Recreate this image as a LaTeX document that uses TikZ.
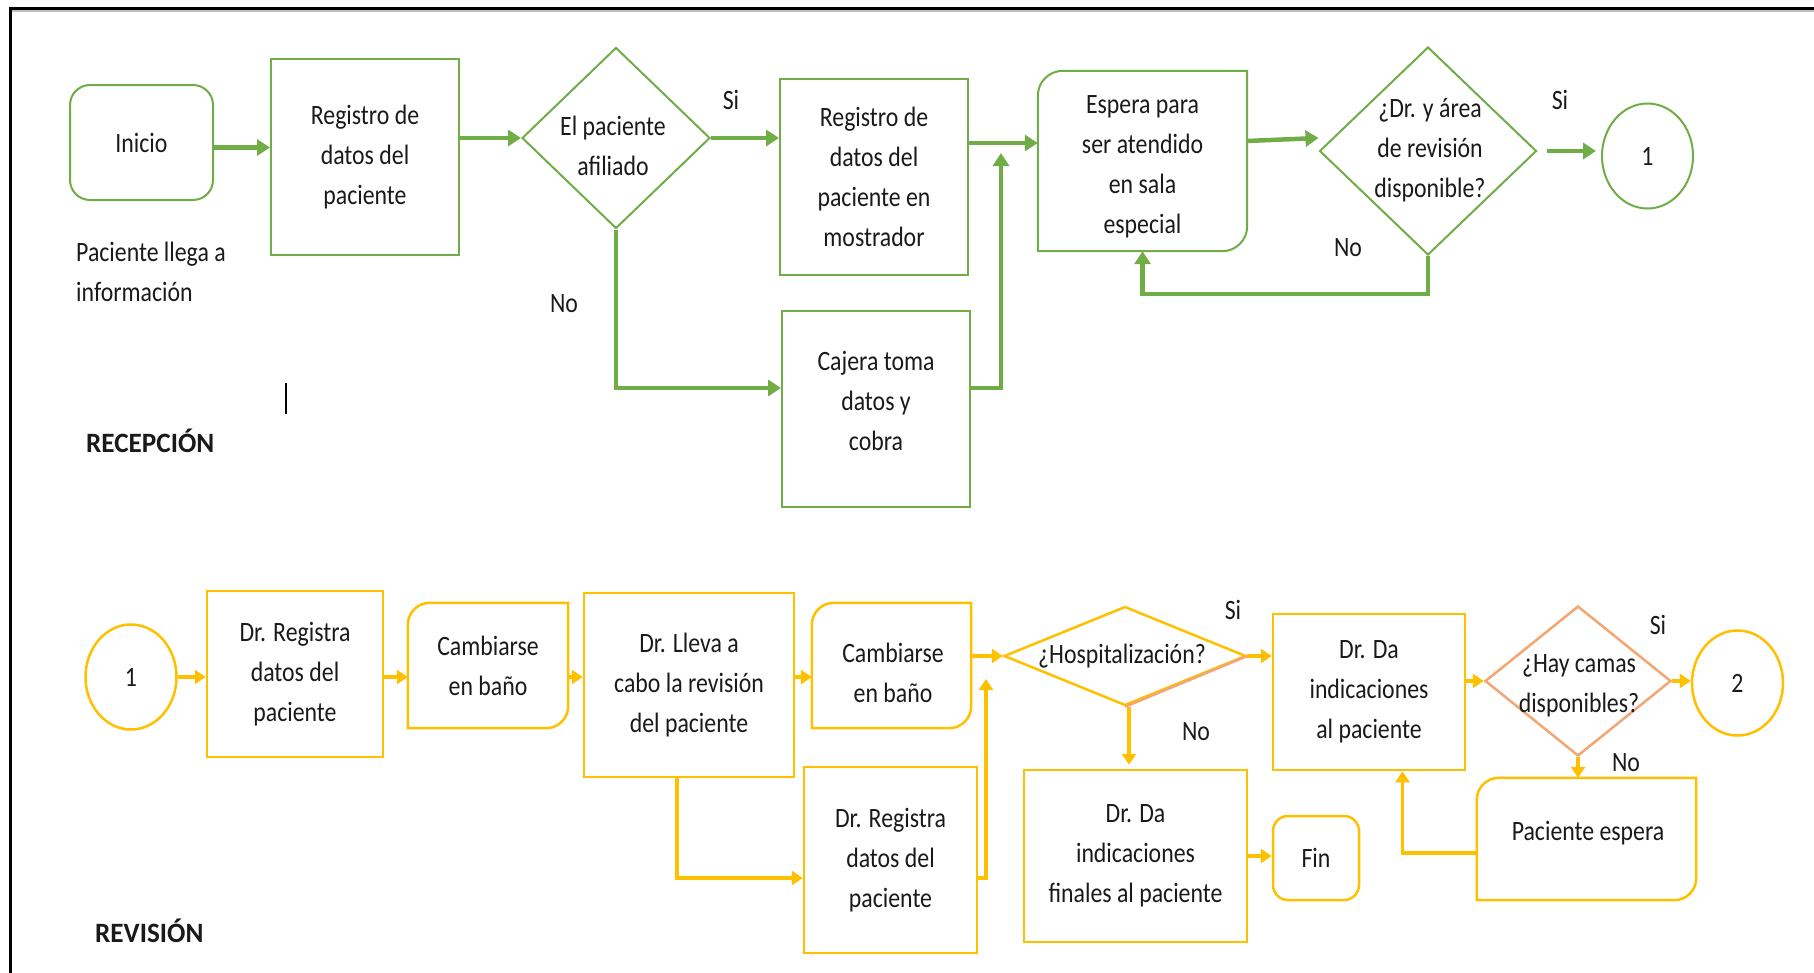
\documentclass[tikz,border=0pt]{standalone}
\usepackage{fontspec}
\setmainfont{Carlito}[FakeStretch=0.85, BoldFeatures={FakeStretch=0.97}]
\usetikzlibrary{shapes.geometric,arrows.meta,calc}
\definecolor{gr}{HTML}{70AD47}
\definecolor{yl}{HTML}{FFC000}
\definecolor{orn}{HTML}{F4A672}
\definecolor{txt}{HTML}{1A1A1A}
\newcommand{\rdiag}[4]{\draw[draw=#2, line width=#4] ([yshift=-#3]#1.north west) arc[start angle=180, end angle=90, radius=#3] -- (#1.north east) -- ([yshift=#3]#1.south east) arc[start angle=0, end angle=-90, radius=#3] -- (#1.south west) -- cycle;}
\begin{document}
\begin{tikzpicture}[x=1pt,y=-1pt,
  every node/.style={font=\fontsize{28}{40}\selectfont, text=txt, inner sep=0pt, align=center},
  gbox/.style={draw=gr, line width=2pt, rectangle},
  ybox/.style={draw=yl, line width=2.5pt, rectangle},
  garr/.style={draw=gr, line width=4.5pt, -{Triangle[length=13pt,width=16pt]}},
  yarr/.style={draw=yl, line width=3.5pt, -{Triangle[length=11pt,width=14pt]}},
  ttl/.style={font=\fontsize{28}{40}\selectfont\bfseries, anchor=west}]
\useasboundingbox (0,0) rectangle (1814,972);
\fill[white] (0,0) rectangle (1814,972);
\clip (0,0) rectangle (1814,972);
% frame
\draw[black!25, line width=1.5pt] (12,11) -- (1830,11);
\draw[line width=3pt] (10,1000) -- (10,8) -- (1830,8);

% ---------- RECEPCION (green) ----------
\node[gbox, rounded corners=20pt, minimum width=143pt, minimum height=115pt] (inicio) at (141.5,142.5) {Inicio};
\node[gbox, minimum width=188pt, minimum height=196pt] (reg1) at (365,157) {Registro de\\datos del\\paciente};
\node[diamond, draw=gr, line width=2pt, minimum width=188pt, minimum height=181pt] (dia1) at (616,138) {};
\node (tdia1) at (613,146) {El paciente\\afiliado};
\node[gbox, minimum width=188pt, minimum height=196pt] (reg2) at (874,177) {Registro de\\datos del\\paciente en\\mostrador};
\node[gbox, minimum width=188pt, minimum height=196pt] (caj) at (876,409) {};
\node (tcaj) at (876,401) {Cajera toma\\datos y\\cobra};
\node[minimum width=209pt, minimum height=180pt] (esp) at (1142.5,161) {};
\rdiag{esp}{gr}{25pt}{2pt}
\node (tesp) at (1142.5,167) {Espera para\\ser atendido\\en sala\\especial};
\node[diamond, draw=gr, line width=2pt, minimum width=217pt, minimum height=208pt] (dia2) at (1428,151) {};
\node (tdia2) at (1430,150) {¿Dr. y área\\de revisión\\disponible?};
\node[ellipse, draw=gr, line width=2pt, minimum width=91pt, minimum height=105pt] (c1) at (1647.5,156) {1};

\node (si1) at (731,100) {Si};
\node (si2) at (1560,100) {Si};
\node (no1) at (564,304) {No};
\node (no2) at (1348,248) {No};
\node[anchor=west, align=left] (llega) at (76,272) {Paciente llega a\\información};
\node[ttl] (rec) at (86,441) {RECEPCIÓN};
\draw[line width=1.5pt] (286,383) -- (286,414);

\draw[garr] ([yshift=-5pt]inicio.east) -- ([yshift=-5pt]inicio.east -| reg1.west);
\draw[garr] (reg1.east |- dia1.west) -- (dia1.west);
\draw[garr] (dia1.east) -- (dia1.east -| reg2.west);
\draw[garr] (dia1.south) |- ([yshift=21pt]caj.west);
\draw[garr] ([yshift=34pt]reg2.east) -- ([yshift=34pt]reg2.east -| esp.west);
\coordinate (j1) at (1001,153);
\draw[garr] ([yshift=21pt]caj.east) -| (j1);
\draw[garr] ([yshift=20pt]esp.east) -- ([yshift=13pt]dia2.west);
\draw[garr] ([xshift=9pt]dia2.east) -- ($(c1.west |- dia2.east)+(-5,0)$);
\draw[garr] (dia2.south) -- ++(0,38) -| (esp.south);

% ---------- REVISION (yellow) ----------
\node[ellipse, draw=yl, line width=2.5pt, minimum width=91pt, minimum height=105pt] (c1b) at (131,677) {1};
\node[ybox, minimum width=176pt, minimum height=166pt] (drr1) at (295,674) {Dr. Registra\\datos del\\paciente};
\node[minimum width=160pt, minimum height=125pt] (camb1) at (488,665.5) {Cambiarse\\en baño};
\rdiag{camb1}{yl}{22pt}{2.5pt}
\node[ybox, minimum width=210pt, minimum height=184pt] (drl) at (689,685) {Dr. Lleva a\\cabo la revisión\\del paciente};
\node[minimum width=159pt, minimum height=125pt] (camb2) at (891.5,665.5) {};
\rdiag{camb2}{yl}{22pt}{2.5pt}
\node (tcamb2) at (893,673) {Cambiarse\\en baño};
\node[ybox, minimum width=173pt, minimum height=186pt] (drr2) at (890.5,860) {Dr. Registra\\datos del\\paciente};
\node[diamond, draw=yl, line width=2.5pt, minimum width=242pt, minimum height=99pt] (hosp) at (1125,656) {};
\draw[orn, line width=2.5pt] (hosp.south) -- (hosp.east);
\node (thosp) at (1122,656) {¿Hospitalización?};
\node[ybox, minimum width=192pt, minimum height=156pt] (drda) at (1369,692) {Dr. Da\\indicaciones\\al paciente};
\node[diamond, draw=orn, line width=2.5pt, minimum width=186pt, minimum height=150pt] (camas) at (1578,681) {};
\node (tcamas) at (1579,686) {¿Hay camas\\disponibles?};
\node[ellipse, draw=yl, line width=2.5pt, minimum width=91pt, minimum height=105pt] (c2) at (1737.5,683) {2};
\node[ybox, minimum width=223pt, minimum height=172pt] (drfin) at (1135.5,856) {Dr. Da\\indicaciones\\finales al paciente};
\node[ybox, rounded corners=15pt, minimum width=86pt, minimum height=84pt] (fin) at (1316,858) {Fin};
\node[minimum width=219pt, minimum height=122pt] (pesp) at (1586.5,839) {};
\rdiag{pesp}{yl}{22pt}{2.5pt}
\node (tpesp) at (1588,833) {Paciente espera};

\node (si3) at (1233,610) {Si};
\node (no3) at (1196,732) {No};
\node (si4) at (1658,625) {Si};
\node (no4) at (1626,763) {No};
\node[ttl] (rev) at (95,931) {REVISIÓN};

\draw[yarr] (c1b.east) -- (c1b.east -| drr1.west);
\draw[yarr] ([yshift=-3pt]drr1.east) -- ([yshift=-3pt]drr1.east -| camb1.west);
\draw[yarr] ([yshift=-11.5pt]camb1.east) -- ([yshift=-11.5pt]camb1.east -| drl.west);
\draw[yarr] ([yshift=8pt]drl.east) -- ([yshift=8pt]drl.east -| camb2.west);
\draw[yarr] ([xshift=-12pt]drl.south) |- ([yshift=-18pt]drr2.west);
\draw[yarr] (hosp.west -| camb2.east) -- (hosp.west);
\coordinate (j2) at (986,679);
\draw[yarr] ([yshift=-18pt]drr2.east) -| (j2);
\draw[yarr] (hosp.east) -- (hosp.east -| drda.west);
\draw[yarr] ([xshift=4pt]hosp.south) -- ([xshift=4pt,yshift=4pt]hosp.south |- drfin.north);
\draw[yarr] (drfin.east) -- (drfin.east -| fin.west);
\draw[yarr] (camas.west -| drda.east) -- (camas.west);
\draw[yarr] (camas.east) -- (camas.east -| c2.west);
\draw[yarr] (camas.south) -- (camas.south |- pesp.north);
\draw[yarr] ([yshift=-14pt]pesp.west) -| ([xshift=33.5pt]drda.south);
\end{tikzpicture}
\end{document}
